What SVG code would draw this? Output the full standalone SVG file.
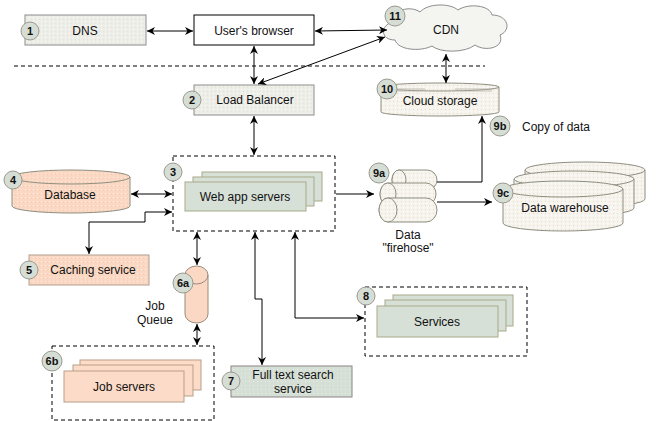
<svg xmlns="http://www.w3.org/2000/svg" width="665" height="421" viewBox="0 0 665 421">
<defs>
<pattern id="pg" width="4" height="4" patternUnits="userSpaceOnUse"><rect width="4" height="4" fill="#eeeee9"/><rect x="1" y="1" width="1" height="1" fill="#fafaf8"/><rect x="3" y="3" width="1" height="1" fill="#e2e2dc"/></pattern>
<pattern id="pp" width="4" height="4" patternUnits="userSpaceOnUse"><rect width="4" height="4" fill="#fbd8c3"/><rect x="1" y="1" width="1" height="1" fill="#fdece2"/><rect x="3" y="2" width="1" height="1" fill="#f6ccb2"/></pattern>
<pattern id="pgr" width="4" height="4" patternUnits="userSpaceOnUse"><rect width="4" height="4" fill="#d6dfd6"/><rect x="1" y="1" width="1" height="1" fill="#e8eee8"/></pattern>
<pattern id="pc" width="4" height="4" patternUnits="userSpaceOnUse"><rect width="4" height="4" fill="#f6f4ee"/><rect x="1" y="1" width="1" height="1" fill="#f4d6c0"/><rect x="3" y="3" width="1" height="1" fill="#fbfaf7"/></pattern>
<marker id="a" viewBox="0 0 10 10" refX="10" refY="5" markerWidth="8" markerHeight="8" markerUnits="userSpaceOnUse" orient="auto-start-reverse"><path d="M0,0 L10,5 L0,10 L3,5 Z" fill="#000"/></marker>
</defs>
<style>
text{font-family:"Liberation Sans",Arial,Helvetica,sans-serif;font-size:12px;fill:#111;text-anchor:middle}
.badge circle{fill:#d6ddd4;stroke:#9a9a90;stroke-width:1}
.badge text{font-weight:bold;font-size:11px}
.box{stroke:#8c8c8c;stroke-width:1}
.gray{fill:url(#pg)}
.peach{fill:url(#pp)}
.sg{fill:#d6e0d7;stroke:#a9a98a;stroke-width:1}
.sp{fill:#fcdcc8;stroke:#b99e88;stroke-width:1}
.cyl{fill:url(#pc);stroke:#8e8e80;stroke-width:1}
.dash{fill:none;stroke:#000;stroke-width:1;stroke-dasharray:4 3}
.c{fill:none;stroke:#000;stroke-width:1}
.b{marker-start:url(#a);marker-end:url(#a)}
.e{marker-end:url(#a)}
</style>
<line x1="14" y1="66" x2="485" y2="66" class="dash"/>
<g id="dns">
<rect x="25" y="15" width="121" height="30" class="box gray"/>
<text x="85" y="35">DNS</text>
<g class="badge"><circle cx="30" cy="31" r="9"/><text x="30" y="35">1</text></g>
</g>
<g id="browser">
<rect x="194" y="15" width="120" height="30" fill="#fff" stroke="#000"/>
<text x="254" y="35">User's browser</text>
</g>
<g id="cdn">
<path d="M395,40 C380,40 380,25 393,22 C392,10 410,5 420,12 C428,3 450,3 458,10 C468,3 490,5 492,15 C508,15 512,30 500,35 C505,48 485,52 475,45 C465,53 440,53 432,46 C420,52 398,50 395,40 Z" fill="#f4f4f1" stroke="#8c8c8c"/>
<text x="446" y="34">CDN</text>
<g class="badge"><circle cx="395" cy="16" r="10"/><text x="395" y="20">11</text></g>
</g>
<g id="lb">
<rect x="194" y="85" width="120" height="30" class="box gray"/>
<text x="255" y="104">Load Balancer</text>
<g class="badge"><circle cx="192" cy="100" r="9"/><text x="192" y="104">2</text></g>
</g>
<g id="storage">
<path d="M381,87 V112 A59,4 0 0 0 499,112 V87" class="cyl"/>
<ellipse cx="440" cy="87" rx="59" ry="4" class="cyl"/>
<path d="M392,89 H425 M455,89 H492 M392,91 H420 M460,91 H492" stroke="#b5b5a8" stroke-width="0.8" fill="none"/>
<text x="440" y="105">Cloud storage</text>
<g class="badge"><circle cx="387" cy="89" r="10"/><text x="387" y="93">10</text></g>
</g>
<g id="copy">
<g class="badge"><circle cx="500" cy="126" r="10"/><text x="500" y="130">9b</text></g>
<text x="556" y="131">Copy of data</text>
</g>
<g id="db">
<path d="M12,177 V206 A59,7 0 0 0 130,206 V177" class="cyl" style="fill:url(#pp)"/>
<ellipse cx="71" cy="177" rx="59" ry="7" class="cyl" style="fill:url(#pp)"/>
<text x="70" y="199">Database</text>
<g class="badge"><circle cx="13" cy="180" r="9"/><text x="13" y="184">4</text></g>
</g>
<g id="web">
<rect x="173" y="156" width="162" height="75" class="dash"/>
<rect x="202" y="172" width="120" height="29" class="sg"/>
<rect x="193" y="177" width="121" height="29" class="sg"/>
<rect x="185" y="182" width="121" height="29" class="sg"/>
<text x="245" y="201">Web app servers</text>
<g class="badge"><circle cx="173" cy="172" r="9"/><text x="173" y="176">3</text></g>
</g>
<g id="caching">
<rect x="29" y="255" width="120" height="30" class="box peach" style="stroke:#b0a090"/>
<text x="93" y="274">Caching service</text>
<g class="badge"><circle cx="29" cy="270" r="9"/><text x="29" y="274">5</text></g>
</g>
<g id="queue">
<path d="M185,275 A11.5,9 0 0 1 208,275 V314 A11.5,9 0 0 1 185,314 Z" fill="#fbd8c3" stroke="#9a8a7c"/>
<path d="M185,275 A11.5,9 0 0 0 208,275" fill="none" stroke="#9a8a7c"/>
<g class="badge"><circle cx="183" cy="283" r="10"/><text x="183" y="287">6a</text></g>
<text x="155" y="310">Job</text>
<text x="155" y="324">Queue</text>
</g>
<g id="jobs">
<rect x="52" y="346" width="162" height="74" class="dash"/>
<rect x="80" y="360" width="121" height="30" class="sp"/>
<rect x="73" y="365" width="120" height="31" class="sp"/>
<rect x="64" y="371" width="120" height="31" class="sp"/>
<text x="124" y="391">Job servers</text>
<g class="badge"><circle cx="52" cy="361" r="10"/><text x="52" y="365">6b</text></g>
</g>
<g id="fts">
<rect x="231" y="366" width="121" height="31" class="box" style="fill:url(#pgr);stroke:#8c8484"/>
<text x="293" y="379">Full text search</text>
<text x="293" y="393">service</text>
<g class="badge"><circle cx="231" cy="381" r="9"/><text x="231" y="385">7</text></g>
</g>
<g id="services">
<rect x="365" y="287" width="162" height="69" class="dash"/>
<rect x="393" y="295" width="120" height="31" class="sg"/>
<rect x="385" y="300" width="121" height="31" class="sg"/>
<rect x="377" y="306" width="121" height="31" class="sg"/>
<text x="437" y="326">Services</text>
<g class="badge"><circle cx="366" cy="296" r="9"/><text x="366" y="300">8</text></g>
</g>
<g id="firehose">
<path d="M399,170 H427 A10,10 0 0 1 427,190 H399 A7,10 0 0 1 399,170 Z" class="cyl"/>
<ellipse cx="399" cy="180" rx="7" ry="10" class="cyl"/>
<path d="M388,183 H426 A10,11 0 0 1 426,205 H388 A8,11 0 0 1 388,183 Z" class="cyl"/>
<ellipse cx="388" cy="194" rx="8" ry="11" class="cyl"/>
<path d="M388,198 H426 A11,12 0 0 1 426,222 H388 A9,12 0 0 1 388,198 Z" class="cyl"/>
<ellipse cx="388" cy="210" rx="9" ry="12" class="cyl"/>
<g class="badge"><circle cx="379" cy="173" r="10"/><text x="379" y="177">9a</text></g>
<text x="408" y="239">Data</text>
<text x="408" y="252">"firehose"</text>
</g>
<g id="warehouse">
<path d="M525,170 V199 A60,8 0 0 0 645,199 V170" class="cyl"/>
<ellipse cx="585" cy="170" rx="60" ry="8" class="cyl"/>
<path d="M514,179 V208 A60,8 0 0 0 634,208 V179" class="cyl"/>
<ellipse cx="574" cy="179" rx="60" ry="8" class="cyl"/>
<path d="M503,189 V223 A60,8 0 0 0 623,223 V189" class="cyl"/>
<ellipse cx="563" cy="189" rx="60" ry="8" class="cyl"/>
<text x="565" y="212">Data warehouse</text>
<g class="badge"><circle cx="503" cy="193" r="10"/><text x="503" y="197">9c</text></g>
</g>
<g id="connectors">
<path d="M147,31 H193" class="c b"/>
<path d="M315,31 L387,30" class="c b"/>
<path d="M258,84 L385,37" class="c b"/>
<path d="M254,46 V84" class="c b"/>
<path d="M446,54 V83" class="c b"/>
<path d="M254,116 V155" class="c b"/>
<path d="M131,194 H172" class="c b"/>
<path d="M172,212 H145 V222 H89 V254" class="c b"/>
<path d="M197,232 V265" class="c b"/>
<path d="M197,324 V345" class="c b"/>
<path d="M255,232 V299 H262 V365" class="c b"/>
<path d="M295,232 V318 H364" class="c b"/>
<path d="M336,194 H374" class="c e"/>
<path d="M437,182 H482 V116" class="c e"/>
<path d="M437,202 H492" class="c e"/>
</g>
</svg>
